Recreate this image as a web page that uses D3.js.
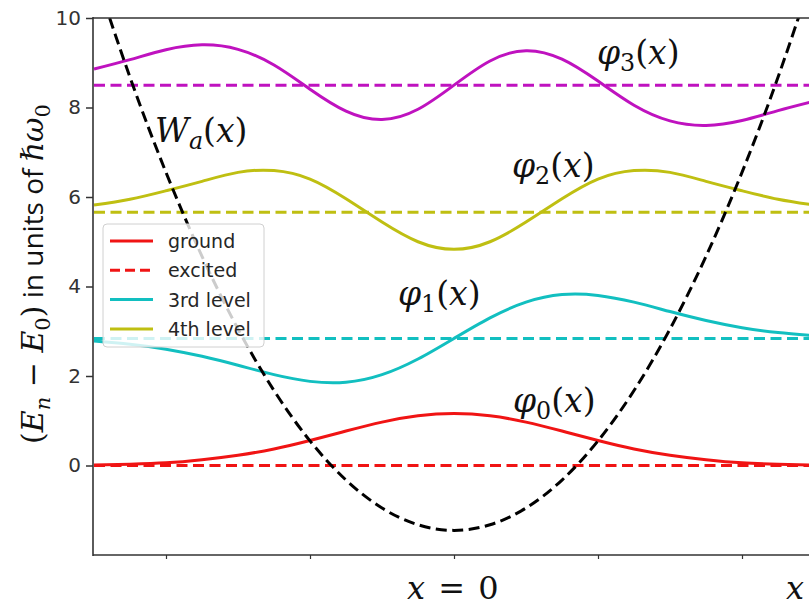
<!DOCTYPE html>
<html>
<head>
<meta charset="utf-8">
<script src="https://cdn.jsdelivr.net/npm/d3@7"></script>
<style>
  html, body { margin: 0; padding: 0; background: #fff; }
  svg { display: block; }
</style>
</head>
<body>
<svg id="chart" width="809" height="608"></svg>
<script>
// ---------- data ----------
const xs = [-2.5, -2.25, -2.0, -1.75, -1.5, -1.25, -1.0, -0.75, -0.5, -0.25, 0,
            0.25, 0.5, 0.75, 1.0, 1.25, 1.5, 1.75, 2.0, 2.25, 2.5];
const levelEnergies = [0, 2.84, 5.66, 8.5];
const groundCurve = [0.01, 0.03, 0.06, 0.13, 0.23, 0.37, 0.56, 0.77, 0.97, 1.11, 1.16,
                     1.11, 0.97, 0.77, 0.56, 0.37, 0.23, 0.13, 0.06, 0.03, 0.01];
const thirdCurve = [2.78, 2.71, 2.60, 2.44, 2.24, 2.03, 1.88, 1.86, 2.03, 2.38, 2.84,
                    3.30, 3.65, 3.82, 3.80, 3.65, 3.44, 3.24, 3.08, 2.97, 2.90];
const fourthCurve = [5.82, 5.95, 6.14, 6.35, 6.55, 6.59, 6.40, 5.96, 5.44, 5.00, 4.83,
                     5.00, 5.44, 5.96, 6.40, 6.59, 6.55, 6.35, 6.14, 5.95, 5.82];
const fifthCurve = [8.86, 9.07, 9.29, 9.40, 9.30, 8.95, 8.41, 7.92, 7.73, 7.96, 8.50,
                    9.04, 9.27, 9.08, 8.59, 8.05, 7.70, 7.60, 7.71, 7.93, 8.14];
const wellCurve = [11.05, 8.675, 6.55, 4.675, 3.05, 1.675, 0.55, -0.325, -0.95, -1.325, -1.45,
                   -1.325, -0.95, -0.325, 0.55, 1.675, 3.05, 4.675, 6.55, 8.675, 11.05];
const seriesColors = ["#f01414", "#12bfc0", "#bfbf12", "#bf12bf"];
const yTicks = [0, 2, 4, 6, 8, 10];
const xTicks = [-2, -1, 0, 1, 2];
const legendLabels = ["ground", "excited", "3rd level", "4th level"];

// ---------- layout ----------
const svg = d3.select("#chart");
const x = d3.scaleLinear().domain([-2.5, 2.5]).range([94, 814]);
const y = d3.scaleLinear().domain([-2, 10]).range([555, 18]);

svg.append("defs").append("clipPath").attr("id", "plotclip")
  .append("rect").attr("x", 93).attr("y", 18).attr("width", 730).attr("height", 537);

const plot = svg.append("g").attr("clip-path", "url(#plotclip)");
const line = d3.line().x((d, i) => x(xs[i])).y(d => y(d)).curve(d3.curveNatural);
const LW = 3;
const DASH = "11,5.5";

// dashed energy levels
levelEnergies.forEach((e, i) => {
  plot.append("line")
    .attr("x1", x(-2.5)).attr("x2", x(2.6))
    .attr("y1", y(e)).attr("y2", y(e))
    .attr("stroke", seriesColors[i]).attr("stroke-width", LW)
    .attr("stroke-dasharray", DASH);
});

// wavefunctions
[groundCurve, thirdCurve, fourthCurve, fifthCurve].forEach((c, i) => {
  plot.append("path").datum(c).attr("d", line)
    .attr("fill", "none").attr("stroke", seriesColors[i]).attr("stroke-width", LW);
});

// well
plot.append("path").datum(wellCurve).attr("d", line)
  .attr("fill", "none").attr("stroke", "#000").attr("stroke-width", LW)
  .attr("stroke-dasharray", DASH);

// axes
const axisColor = "#333";
const yAxis = svg.append("g").attr("transform", "translate(93,0)")
  .call(d3.axisLeft(y).tickValues(yTicks).tickSize(7).tickPadding(5).tickFormat(d3.format("d")));
yAxis.select(".domain").remove();
yAxis.selectAll("line").attr("stroke", axisColor).attr("stroke-width", 1.5);
yAxis.selectAll("text").attr("fill", axisColor)
  .style("font-family", "DejaVu Sans").style("font-size", "20px");

const xAxis = svg.append("g").attr("transform", "translate(0,555)")
  .call(d3.axisBottom(x).tickValues(xTicks).tickSize(4).tickFormat(""));
xAxis.select(".domain").remove();
xAxis.selectAll("line").attr("stroke", axisColor).attr("stroke-width", 1.2);

// spines
svg.append("line").attr("x1", 93).attr("x2", 93).attr("y1", 17).attr("y2", 556)
  .attr("stroke", axisColor).attr("stroke-width", 1.6);
svg.append("line").attr("x1", 93).attr("x2", 809).attr("y1", 18).attr("y2", 18)
  .attr("stroke", axisColor).attr("stroke-width", 1.6);
svg.append("line").attr("x1", 93).attr("x2", 809).attr("y1", 555).attr("y2", 555)
  .attr("stroke", axisColor).attr("stroke-width", 1.6);

// legend
const lg = svg.append("g");
lg.append("rect").attr("x", 103).attr("y", 224).attr("width", 161).attr("height", 123)
  .attr("rx", 4).attr("fill", "#fff").attr("fill-opacity", 0.8)
  .attr("stroke", "#d0d0d0").attr("stroke-width", 1);
const legendStyles = [
  {c: seriesColors[0], dash: null},
  {c: seriesColors[0], dash: "10,5"},
  {c: seriesColors[1], dash: null},
  {c: seriesColors[2], dash: null}
];
legendLabels.forEach((lab, i) => {
  const yy = 241 + i * 29.3;
  lg.append("line").attr("x1", 110).attr("x2", 153).attr("y1", yy).attr("y2", yy)
    .attr("stroke", legendStyles[i].c).attr("stroke-width", 3)
    .attr("stroke-dasharray", legendStyles[i].dash);
  lg.append("text").attr("x", 168).attr("y", yy + 7).text(lab)
    .attr("fill", "#262626").style("font-family", "DejaVu Sans").style("font-size", "19px");
});

// math labels
const serif = "DejaVu Serif";
function mathLabel(xp, yp, parts, size) {
  const t = svg.append("text").attr("x", xp).attr("y", yp)
    .style("font-family", serif).style("font-size", size + "px").attr("fill", "#111");
  parts.forEach(p => {
    const s = t.append("tspan").text(p.t);
    if (p.it) s.style("font-style", "italic");
    if (p.sub) s.attr("dy", size * 0.22).style("font-size", (size * 0.72) + "px");
    if (p.back) s.attr("dy", -size * 0.22);
  });
  return t;
}
const LS = 33;
mathLabel(155, 142, [{t: "W", it: true}, {t: "a", it: true, sub: true}, {t: "(", back: true}, {t: "x", it: true}, {t: ")"}], LS);
mathLabel(597, 64, [{t: "φ", it: true}, {t: "3", sub: true}, {t: "(", back: true}, {t: "x", it: true}, {t: ")"}], LS);
mathLabel(512, 177, [{t: "φ", it: true}, {t: "2", sub: true}, {t: "(", back: true}, {t: "x", it: true}, {t: ")"}], LS);
mathLabel(398, 305, [{t: "φ", it: true}, {t: "1", sub: true}, {t: "(", back: true}, {t: "x", it: true}, {t: ")"}], LS);
mathLabel(513, 412, [{t: "φ", it: true}, {t: "0", sub: true}, {t: "(", back: true}, {t: "x", it: true}, {t: ")"}], LS);
mathLabel(407, 599, [{t: "x", it: true}, {t: " = 0"}], 32).attr("word-spacing", "3px");
mathLabel(786, 599, [{t: "x", it: true}], 32);

// y label
const yl = svg.append("text").attr("transform", "translate(43,274) rotate(-90)")
  .attr("text-anchor", "middle").attr("fill", "#111")
  .style("font-family", serif).style("font-size", "30px");
const ylParts = [
  {t: "("}, {t: "E", it: true}, {t: "n", it: true, sub: true}, {t: " − ", back: true},
  {t: "E", it: true}, {t: "0", sub: true}, {t: ")", back: true},
  {t: " in units of ", sans: true}, {t: "ℏ", it: true}, {t: "ω", it: true},
  {t: "0", sub: true}
];
ylParts.forEach(p => {
  const s = yl.append("tspan").text(p.t);
  if (p.it) s.style("font-style", "italic");
  if (p.sans) s.style("font-family", "Open Sans").style("font-size", "28px");
  if (p.sub) s.attr("dy", 7).style("font-size", "21px");
  if (p.back) s.attr("dy", -7);
});
</script>
</body>
</html>
